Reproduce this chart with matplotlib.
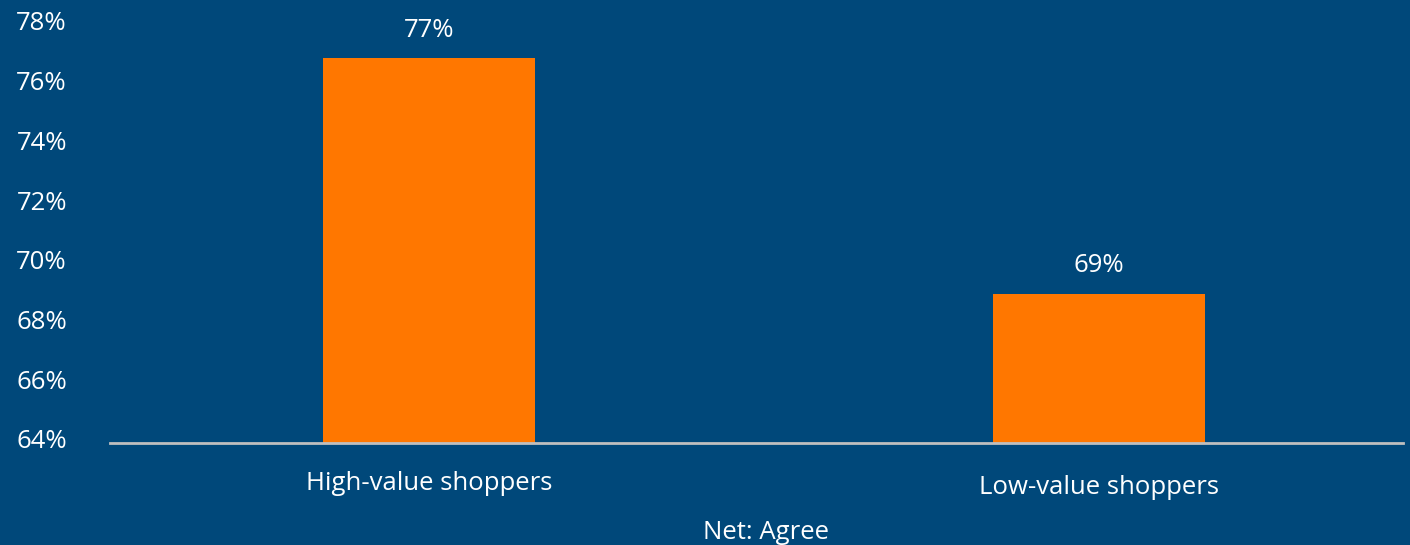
import matplotlib
matplotlib.use('Agg')
import matplotlib.pyplot as plt
from matplotlib.transforms import ScaledTranslation

# 数据
categories = ['High-value shoppers', 'Low-value shoppers']
values = [76.9, 69.0]
value_labels = ['77%', '69%']
y_ticks = [64, 66, 68, 70, 72, 74, 76, 78]

bg = '#00487A'
orange = '#FF7700'

plt.rcParams['font.family'] = ['Open Sans', 'DejaVu Sans']
fs = 18.5

fig = plt.figure(figsize=(14.1, 5.45), dpi=100, facecolor=bg)
# 轴区域: x 110..1403, y 25..443 (像素)
ax = fig.add_axes([110 / 1410, (545 - 443) / 545, 1293 / 1410, 418 / 545])
ax.set_facecolor(bg)

x = list(range(len(categories)))
ax.bar(x, values, width=0.316, color=orange, zorder=2)
ax.set_xlim(-0.476, 1.454)
ax.set_ylim(64, 78)

for xi, v, lab in zip(x, values, value_labels):
    ax.annotate(lab, (xi, v), xytext=(0, 11), textcoords='offset points',
                ha='center', va='bottom', color='white', fontsize=fs)

ax.set_yticks(y_ticks)
ax.set_yticklabels([f'{t}%' for t in y_ticks], color='white', fontsize=fs)
ax.tick_params(axis='y', length=0, pad=31)
# y 标签整体上移一点
up = ScaledTranslation(0, 4 / 100, fig.dpi_scale_trans)
for lbl in ax.get_yticklabels():
    lbl.set_transform(lbl.get_transform() + up)

ax.set_xticks(x)
ax.set_xticklabels(categories, color='white', fontsize=fs)
ax.tick_params(axis='x', length=0, pad=20.5)
# 第二个标签稍低一点
lbl2 = ax.get_xticklabels()[1]
lbl2.set_transform(lbl2.get_transform() + ScaledTranslation(0, -4 / 100, fig.dpi_scale_trans))

ax.set_xlabel('Net: Agree', color='white', fontsize=fs)
ax.xaxis.set_label_coords(0.507, -0.185)

for s in ['top', 'right', 'left']:
    ax.spines[s].set_visible(False)
ax.spines['bottom'].set_color('#BFBFBF')
ax.spines['bottom'].set_linewidth(2)
ax.spines['bottom'].set_zorder(3)

fig.savefig('out.png', dpi=100, facecolor=bg)
